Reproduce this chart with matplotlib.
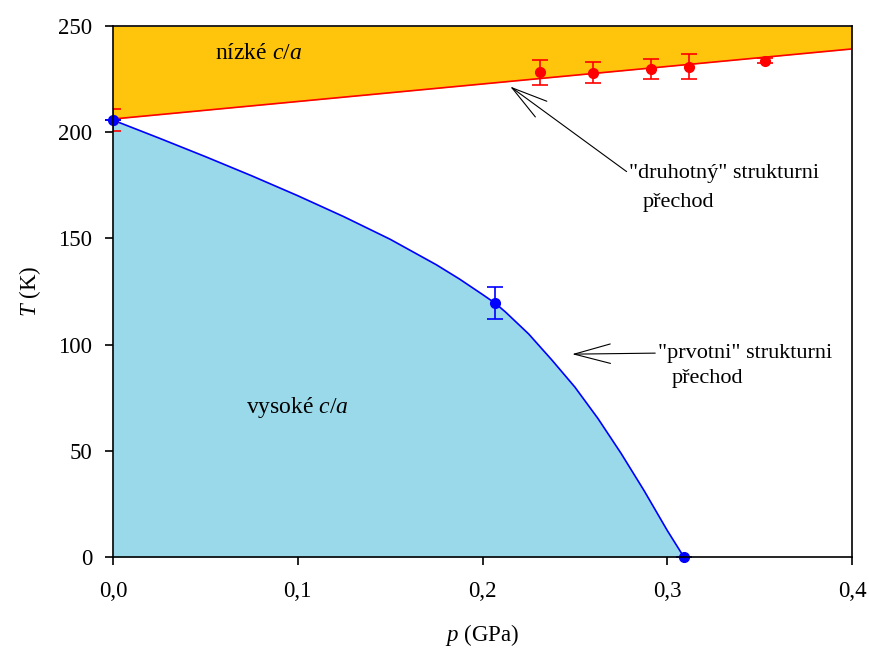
import matplotlib
matplotlib.use("Agg")
import matplotlib.pyplot as plt
import numpy as np

# ---- data ----
# first-order boundary (blue curve)
curve_p = [0.0, 0.025, 0.05, 0.075, 0.10, 0.125, 0.15, 0.175, 0.1875, 0.20,
           0.207, 0.2125, 0.225, 0.2375, 0.25, 0.2625, 0.275, 0.2875, 0.30, 0.309]
curve_T = [205.7, 197.2, 188.5, 179.5, 170.1, 160.2, 149.6, 137.6, 130.9, 123.6,
           119.4, 115.3, 105.0, 92.8, 80.0, 65.2, 48.8, 31.2, 12.5, 0.0]

# second-order boundary (red line)
line_p = [0.0, 0.4]
line_T = [206.2, 239.2]

# measured points
blue_p = [0.0, 0.207, 0.309]
blue_T = [205.7, 119.4, 0.0]
blue_err = [0.0, 7.5, 0.0]

red_p = [0.0, 0.231, 0.260, 0.291, 0.312, 0.353]
red_T = [205.7, 228.2, 228.0, 229.8, 230.8, 233.7]
red_err = [5.0, 5.9, 5.0, 4.7, 5.9, 1.2]

xticks = [0.0, 0.1, 0.2, 0.3, 0.4]
xticklabels = ["0,0", "0,1", "0,2", "0,3", "0,4"]
yticks = [0, 50, 100, 150, 200, 250]

plt.rcParams['font.family'] = ['Liberation Serif', 'DejaVu Serif']
plt.rcParams['mathtext.fontset'] = 'custom'
plt.rcParams['mathtext.rm'] = 'Liberation Serif'
plt.rcParams['mathtext.it'] = 'Liberation Serif:italic'

fig = plt.figure(figsize=(8.7, 6.51), dpi=100)
ax = fig.add_axes([113/870, 1-557/651, (852-113)/870, (557-26)/651])

orange = '#FFC50D'
lblue = '#99D9EA'

ax.fill_between(line_p, line_T, 250, color=orange, lw=0, zorder=1)
ax.fill_between(curve_p, curve_T, 0, color=lblue, lw=0, zorder=1)
ax.plot(line_p, line_T, color='red', lw=1.2, zorder=3)
ax.plot(curve_p, curve_T, color='blue', lw=1.2, zorder=3)

ax.errorbar(red_p, red_T, yerr=red_err, fmt='o', color='red', ms=7,
            capsize=5.5, elinewidth=1.2, capthick=1.2, zorder=4)
ax.errorbar(blue_p, blue_T, yerr=blue_err, fmt='o', color='blue', ms=7,
            capsize=5.5, elinewidth=1.2, capthick=1.2, zorder=5, clip_on=False)

ax.set_xlim(0, 0.4)
ax.set_ylim(0, 250)
ax.set_xticks(xticks)
ax.set_xticklabels(xticklabels)
ax.set_yticks(yticks)
ax.tick_params(direction='out', length=6, width=1.2, labelsize=16.5,
               top=False, right=False)
ax.tick_params(axis='x', pad=11)
ax.tick_params(axis='y', pad=9)
for s in ax.spines.values():
    s.set_linewidth(1.2)
    s.set_zorder(6)

ax.set_xlabel("$p$ (GPa)", fontsize=16.5, labelpad=15)
ax.set_ylabel("$T$ (K)", fontsize=16.5, labelpad=11)

fs_reg = 17
fs = 16
ax.text(0.079, 237, "nízké $c$/$a$", fontsize=fs_reg, ha='center', va='center', zorder=7)
ax.text(0.1, 70.5, "vysoké $c$/$a$", fontsize=fs_reg, ha='center', va='center', zorder=7)

ax.annotate("\"druhotný\" strukturni", xy=(0.215, 221.5), xytext=(0.2795, 180.5),
            fontsize=fs, ha='left', va='center',
            arrowprops=dict(arrowstyle='->,head_length=2.6,head_width=0.7',
                            color='black', lw=0.8, mutation_scale=10,
                            shrinkA=0, shrinkB=0,
                            relpos=(0.0, 0.5)), zorder=7)
ax.text(0.2868, 167, "přechod", fontsize=fs, ha='left', va='center', zorder=7)

ax.annotate("\"prvotni\" strukturni", xy=(0.2485, 95.5), xytext=(0.295, 96),
            fontsize=fs, ha='left', va='center',
            arrowprops=dict(arrowstyle='->,head_length=2.6,head_width=0.7',
                            color='black', lw=0.8, mutation_scale=10,
                            shrinkA=0, shrinkB=0,
                            relpos=(0.0, 0.5)), zorder=7)
ax.text(0.3025, 84, "přechod", fontsize=fs, ha='left', va='center', zorder=7)

fig.savefig("out.png", dpi=100)
